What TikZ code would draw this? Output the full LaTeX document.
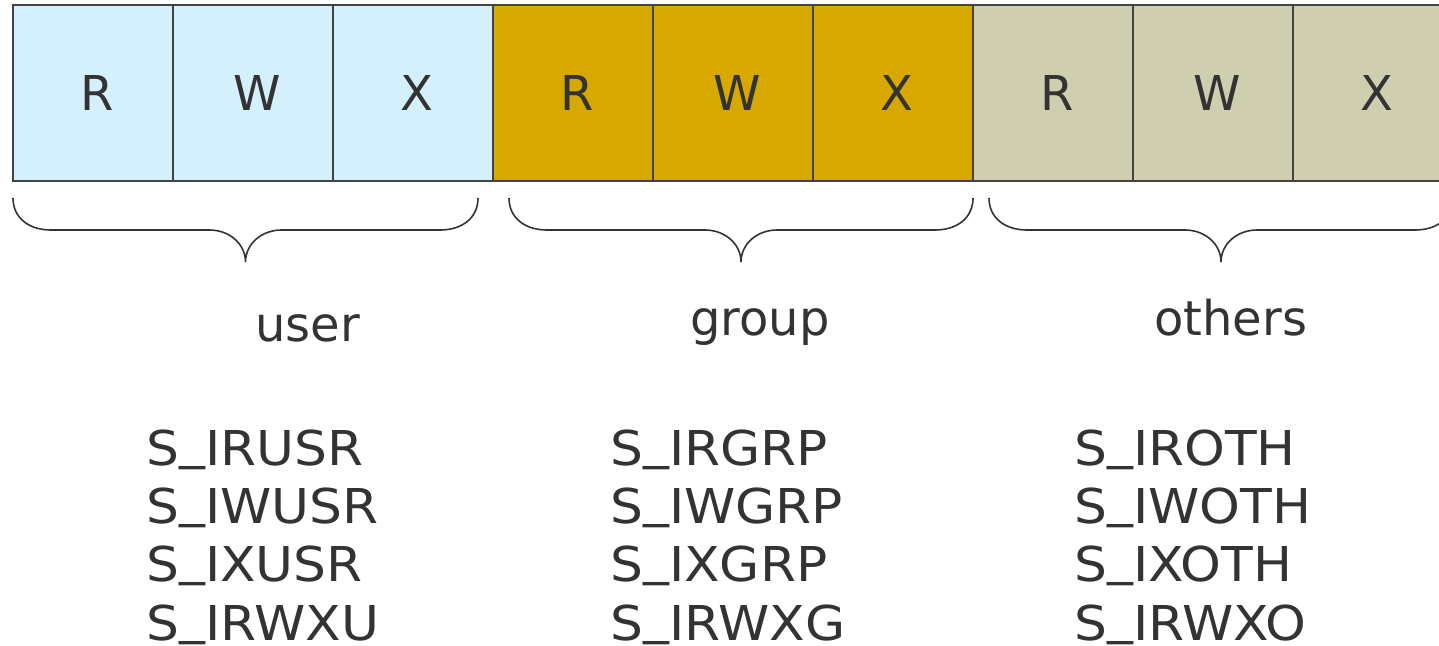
\documentclass[tikz,border=0pt]{standalone}
\usepackage{fontspec}
\setmainfont{DejaVu Sans}
\newfontfamily\widesans[FakeStretch=1.08]{DejaVu Sans}
% underscore sitting close to the baseline
\newcommand\usc{\raisebox{7pt}{\_}}
\begin{document}
\begin{tikzpicture}[x=1pt,y=-1pt,
  permbox/.style={draw=boxline, line width=1.8pt, minimum width=160pt, minimum height=176pt,
    inner sep=0pt, text=inkgray, font=\fontsize{48}{58}\selectfont},
  brace/.style={draw=inkgray, line width=1.6pt},
  caption/.style={anchor=base west, inner sep=0pt, text=inkgray, font=\fontsize{48}{58}\selectfont},
  flag/.style={anchor=base west, inner sep=0pt, text=inkgray, font=\widesans\fontsize{48}{58}\selectfont}]
\definecolor{inkgray}{HTML}{333333}
\definecolor{boxline}{HTML}{444444}
\definecolor{userfill}{HTML}{D5F0FD}
\definecolor{groupfill}{HTML}{D6A800}
\definecolor{otherfill}{HTML}{CFCFAF}
\useasboundingbox (0,0) rectangle (1439,645);
\clip (0,0) rectangle (1439,645);

% permission bit cells
\foreach \name/\lbl/\fc [count=\i from 0] in
  {ur/R/userfill, uw/W/userfill, ux/X/userfill,
   gr/R/groupfill, gw/W/groupfill, gx/X/groupfill,
   or/R/otherfill, ow/W/otherfill, ox/X/otherfill}
  \node[permbox, fill=\fc] (\name) at ({93+160*\i},93) {\hspace*{8pt}\lbl};

% curly braces under each triple
\foreach \nm/\a/\b in {ub/13/478, gb/509/973, ob/989/1453} {
  \pgfmathsetmacro{\c}{(\a+\b)/2}
  \coordinate (\nm) at (\c,262);
  \draw[brace] (\a,198) .. controls (\a,218) and (\a+16,230) .. (\a+38,230)
     -- (\c-36,230) .. controls (\c-16,230) and (\c,244) .. (\nm)
     .. controls (\c,244) and (\c+16,230) .. (\c+36,230)
     -- (\b-38,230) .. controls (\b-16,230) and (\b,218) .. (\b,198);
}

% class names
\node[caption] (user) at (255,341) {user};
\node[caption] (group) at (690,335) {group};
\node[caption] (others) at (1154,335) {others};

% mode constants
\foreach \col/\x/\la/\lb/\lc/\ld in
  {u/146/S\usc IRUSR/S\usc IWUSR/S\usc IXUSR/S\usc IRWXU,
   g/610/S\usc IRGRP/S\usc IWGRP/S\usc IXGRP/S\usc IRWXG,
   o/1074/S\usc IROTH/S\usc IWOTH/S\usc IXOTH/S\usc IRWXO} {
  \node[flag] (\col1) at (\x,465) {\la};
  \node[flag] (\col2) at (\x,523.3) {\lb};
  \node[flag] (\col3) at (\x,581.7) {\lc};
  \node[flag] (\col4) at (\x,640) {\ld};
}
\end{tikzpicture}
\end{document}
